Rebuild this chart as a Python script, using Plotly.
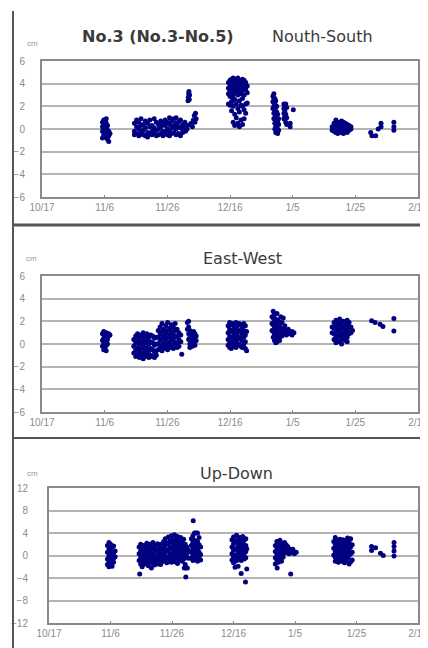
import plotly.graph_objects as go

# ---- data: (day offset from 10/17, [cm values]) ----
tick_days = [0, 20, 40, 60, 80, 100, 120]
tick_labels = ["10/17", "11/6", "11/26", "12/16", "1/5", "1/25", "2/14"]
ns_ticks = [-6, -4, -2, 0, 2, 4, 6]
ew_ticks = [-6, -4, -2, 0, 2, 4, 6]
ud_ticks = [-12, -8, -4, 0, 4, 8, 12]

station_title = "No.3 (No.3-No.5)"
panel_titles = ["Nouth-South", "East-West", "Up-Down"]

ns_columns = [
    (19.3, [0.6, 0.2, -0.2, -0.8]), (19.7, [0.8, 0.4, -0.5]), (20.1, [0.7, 0.0, -0.3, -0.7]),
    (20.5, [0.9, 0.5, 0.1, -0.4]), (20.9, [0.3, -0.1, -0.6, -0.9]), (21.3, [-0.2, -0.6, -1.1]),
    (21.7, [-0.4]),
    (29.5, [0.5, -0.2, -0.5]), (30.2, [0.8, 0.2, -0.4]), (30.9, [0.6, 0.0, -0.6]),
    (31.6, [0.9, 0.3, -0.3]), (32.3, [0.4, -0.1, -0.5]), (33.0, [0.7, 0.1, -0.6]),
    (33.7, [0.5, -0.3, -0.7]), (34.4, [0.8, 0.2, -0.4]), (35.1, [0.3, -0.2, -0.5]),
    (35.8, [0.9, 0.1, -0.3]), (36.5, [0.6, -0.1, -0.6]), (37.2, [0.4, 0.0, -0.5]),
    (37.9, [0.7, 0.2, -0.4]), (38.6, [0.5, -0.2, -0.6]), (39.3, [0.8, 0.3, -0.3]),
    (40.0, [0.6, 0.0, -0.5]), (40.7, [1.0, 0.4, -0.2, -0.6]), (41.4, [0.7, 0.1, -0.4]),
    (42.1, [0.9, 0.3, -0.3]), (42.8, [1.0, 0.5, 0.0, -0.5]), (43.5, [0.6, 0.2, -0.4]),
    (44.2, [0.8, 0.1, -0.6]), (44.9, [0.4, -0.1, -0.3]), (45.6, [0.6, 0.2]),
    (45.8, [-0.2]), (46.3, [0.0]), (46.5, [0.3]), (46.6, [2.5]), (46.7, [2.8]),
    (46.8, [3.1]), (46.9, [3.3]), (47.0, [2.6]), (47.1, [3.0]), (47.3, [0.4]),
    (47.6, [0.5]), (48.0, [0.2]), (48.3, [0.8]), (48.6, [1.2]), (48.8, [0.6]),
    (49.0, [1.4]), (49.2, [0.9]),
    (59.5, [4.1, 3.6, 3.1, 2.2]), (60.0, [4.3, 3.8, 3.3, 2.9, 2.1]),
    (60.5, [4.4, 3.9, 3.4, 2.8, 2.4, 1.6]), (61.0, [4.5, 4.0, 3.5, 3.0, 2.0, 0.6]),
    (61.5, [4.3, 3.7, 3.2, 2.6, 1.3, 0.3]), (62.0, [4.4, 3.9, 3.4, 2.2, 1.0]),
    (62.5, [4.5, 4.1, 3.6, 3.0, 1.8, 0.5]), (63.0, [4.3, 3.8, 3.3, 2.5, 1.5, 0.2]),
    (63.5, [4.2, 3.7, 3.1, 2.1, 0.8]), (64.0, [4.4, 3.9, 3.4, 2.7, 2.0, 0.4]),
    (64.5, [4.3, 3.6, 3.0, 1.7, 0.9]), (65.0, [4.1, 3.5, 2.2, 1.4]), (65.5, [3.8, 3.2, 2.3]),
    (73.7, [2.9, 2.4, 1.8]), (74.0, [3.1, 2.6, 2.0, 1.4, 0.9]),
    (74.3, [2.7, 2.2, 1.6, 1.0, 0.5, 0.0]), (74.6, [2.5, 1.9, 1.2, 0.7, 0.2, -0.3]),
    (74.9, [2.0, 1.5, 0.8, 0.3, -0.2]), (75.2, [1.3, 0.6, 0.0, -0.4]), (75.5, [0.9, 0.4, -0.1]),
    (77.2, [2.2, 1.8, 1.4, 0.9]), (77.5, [2.0, 1.6, 1.1]), (77.8, [2.2, 1.3, 0.6]),
    (78.1, [1.9, 1.0, 0.4]), (79.2, [0.5, 0.2]), (80.2, [1.7]),
    (92.6, [0.2, -0.1]), (93.2, [0.5, 0.1, -0.2]), (93.8, [0.8, 0.3, 0.0, -0.3]),
    (94.4, [0.6, 0.2, -0.1, -0.4]), (95.0, [0.5, 0.1, -0.2]), (95.6, [0.7, 0.3, 0.0, -0.3]),
    (96.2, [0.6, 0.2, -0.1, -0.4]), (96.8, [0.5, 0.1, -0.2]), (97.4, [0.4, 0.0, -0.3]),
    (98.0, [0.3, -0.1]), (98.6, [0.2, 0.0]),
    (104.9, [-0.3]), (105.3, [-0.6]), (106.5, [-0.6]), (107.3, [0.0]), (108.2, [0.5, 0.2]),
    (112.3, [0.6, 0.2, -0.1]),
]

ew_columns = [
    (19.3, [0.9, 0.3, -0.2]), (19.7, [1.1, 0.5, 0.0, -0.5]), (20.1, [0.7, 0.2, -0.3]),
    (20.5, [1.0, 0.6, -0.1, -0.6]), (20.9, [0.8, 0.4, 0.0]), (21.3, [0.9, 0.7]), (21.7, [0.8]),
    (29.3, [0.4, -0.2, -0.8]), (29.9, [0.7, 0.1, -0.5, -1.1]), (30.5, [0.9, 0.3, -0.3, -0.9]),
    (31.1, [0.6, 0.0, -0.6, -1.2]), (31.7, [0.8, 0.2, -0.4, -1.0]),
    (32.3, [1.0, 0.4, -0.2, -0.8, -1.3]), (32.9, [0.7, 0.1, -0.5, -1.1]),
    (33.5, [0.9, 0.3, -0.3, -0.9]), (34.1, [0.6, 0.0, -0.6, -1.2]),
    (34.7, [0.8, 0.2, -0.4, -1.0]), (35.3, [0.7, 0.1, -0.5, -1.1]),
    (35.9, [0.5, -0.1, -0.7, -1.2]), (36.5, [0.6, 0.0, -0.6, -1.0]),
    (37.1, [1.2, 0.6, 0.0, -0.5]), (37.7, [1.5, 0.9, 0.3, -0.3]),
    (38.3, [1.8, 1.1, 0.5, -0.1, -0.6]), (38.9, [1.3, 0.7, 0.1, -0.4]),
    (39.5, [1.6, 1.0, 0.4, -0.2]), (40.1, [1.9, 1.2, 0.6, 0.0, -0.5]),
    (40.7, [1.4, 0.8, 0.2, -0.3]), (41.3, [1.7, 1.1, 0.5, -0.1]),
    (41.9, [1.5, 0.9, 0.3, -0.4]), (42.5, [1.8, 1.2, 0.6, 0.0]),
    (43.1, [1.3, 0.7, 0.1, -0.3]), (43.7, [1.0, 0.4, -0.2]), (44.3, [0.8, 0.2]), (44.6, [-0.9]),
    (46.4, [1.9, 1.3]), (46.8, [2.0, 1.5, 0.9, 0.4]), (47.2, [1.2, 0.6, 0.0, -0.3]),
    (47.6, [1.0, 0.5, 0.1]), (48.0, [0.8, 0.3, -0.2]), (48.4, [1.1, 0.6, 0.0]),
    (48.8, [0.9, 0.2, -0.1]), (49.2, [0.7, 0.3]),
    (59.4, [1.6, 1.0, 0.4, -0.1]), (59.9, [1.9, 1.3, 0.7, 0.1, -0.3]),
    (60.4, [1.7, 1.1, 0.5, 0.0, -0.4]), (60.9, [1.8, 1.2, 0.6, 0.2]),
    (61.4, [1.5, 0.9, 0.3, -0.2]), (61.9, [1.9, 1.3, 0.7, 0.1, -0.3]),
    (62.4, [1.6, 1.0, 0.4, -0.1]), (62.9, [1.8, 1.2, 0.6, 0.0]),
    (63.4, [1.7, 1.1, 0.5, -0.2]), (63.9, [1.5, 0.9, 0.3, -0.3]),
    (64.4, [1.8, 1.2, 0.6, 0.0]), (64.9, [1.6, 0.8, 0.2, -0.4]), (65.3, [1.1, -0.6]),
    (73.4, [2.4, 1.8, 1.2]), (73.8, [2.9, 2.3, 1.7, 1.1, 0.6]), (74.2, [2.6, 2.0, 1.4, 0.8, 0.3]),
    (74.6, [2.2, 1.6, 1.0, 0.5, 0.1]), (75.0, [2.7, 1.9, 1.3, 0.7, 0.2]),
    (75.4, [2.1, 1.5, 0.9, 0.4]), (75.8, [1.7, 1.2, 0.6, 0.3]), (76.2, [2.4, 1.4, 0.8]),
    (76.6, [1.9, 1.1, 0.7]), (77.0, [2.3, 1.3, 0.9]), (77.5, [1.6, 1.0]), (78.0, [1.2, 0.8]),
    (78.6, [1.3, 0.9]), (79.2, [1.0]), (79.8, [1.1, 0.8]), (80.4, [1.0]),
    (92.6, [1.5, 1.0]), (93.2, [1.9, 1.4, 0.9, 0.4]), (93.8, [2.1, 1.6, 1.1, 0.6, 0.1]),
    (94.4, [1.8, 1.3, 0.8, 0.3]), (95.0, [2.2, 1.7, 1.2, 0.7, 0.2]),
    (95.6, [1.9, 1.4, 0.9, 0.4, 0.0]), (96.2, [2.0, 1.5, 1.0, 0.5]),
    (96.8, [1.8, 1.3, 0.8, 0.3]), (97.4, [2.1, 1.6, 1.1, 0.6, 0.2]),
    (98.0, [1.9, 1.4, 0.9]), (98.6, [1.5, 1.0]), (99.1, [1.2]),
    (105.2, [2.05]), (106.3, [1.9]), (107.9, [1.75]), (108.8, [1.55]),
    (112.3, [2.25, 1.15]),
]

ud_columns = [
    (19.0, [1.8, 0.6, -0.6, -1.6]), (19.5, [2.3, 1.2, 0.0, -1.0, -2.0]),
    (20.0, [2.0, 0.9, -0.3, -1.4]), (20.5, [1.5, 0.3, -0.8, -1.9]),
    (21.0, [1.7, 0.5, -0.5, -1.2]), (21.5, [0.8, -0.2]),
    (29.3, [1.5, 0.3, -0.9]), (29.5, [-3.3]), (29.8, [2.0, 0.8, -0.4, -1.5]),
    (30.3, [1.2, 0.0, -1.1, -2.0]), (30.8, [1.8, 0.6, -0.6, -1.6]), (31.3, [1.4, 0.2, -0.9]),
    (31.8, [2.2, 1.0, -0.2, -1.3]), (32.3, [1.6, 0.4, -0.7, -1.8]),
    (32.8, [2.0, 0.8, -0.4, -1.4]), (33.3, [1.3, 0.1, -1.0, -2.2]),
    (33.8, [2.3, 1.1, -0.1, -1.2]), (34.3, [1.7, 0.5, -0.6, -1.7]), (34.8, [1.0, -0.2, -1.1]),
    (35.3, [2.1, 0.9, -0.3, -1.5]), (35.8, [1.5, 0.3, -0.8]), (36.3, [2.0, 0.7, -0.5, -1.6]),
    (36.8, [1.2, 0.0, -1.0]),
    (37.3, [2.5, 1.3, 0.1, -1.0]), (37.8, [3.0, 1.8, 0.6, -0.6]), (38.3, [2.2, 1.0, -0.2, -1.3]),
    (38.8, [3.3, 2.1, 0.9, -0.3]), (39.3, [2.6, 1.4, 0.2, -0.9]),
    (39.8, [3.5, 2.3, 1.1, -0.1, -1.2]), (40.3, [2.8, 1.6, 0.4, -0.7]),
    (40.8, [3.7, 2.4, 1.2, 0.0, -1.1]), (41.3, [3.0, 1.8, 0.6, -0.5]),
    (41.8, [3.4, 2.2, 1.0, -0.2, -1.4]), (42.3, [2.7, 1.5, 0.3, -0.8]),
    (42.8, [3.2, 2.0, 0.8, -0.4]), (43.3, [2.5, 1.3, 0.1, -1.0]),
    (43.8, [2.9, 1.7, 0.5, -0.6]), (44.0, [-2.2]), (44.3, [2.0, 0.8, -0.3, -1.6]),
    (44.5, [-2.2, -3.8]), (44.8, [1.5, 0.3]), (45.0, [-2.2]), (45.3, [1.0, -0.5]),
    (46.3, [3.0, 1.8, 0.6, -0.5]), (46.8, [3.5, 2.3, 1.1, 0.0, -0.9]), (46.9, [6.2]),
    (47.3, [4.0, 2.7, 1.5, 0.3, -0.6]), (47.8, [4.0, 2.0, 0.8, -0.3]),
    (48.3, [4.0, 2.5, 1.2, 0.0, -1.0]), (48.8, [3.2, 1.9, 0.6, -0.5]), (49.3, [1.5, 0.2, -0.8]),
    (59.5, [2.8, 1.5, 0.3, -0.8]), (60.0, [3.3, 2.1, 0.9, -0.2, -1.3]),
    (60.5, [2.5, 1.2, 0.0, -1.0, -2.1]), (61.0, [3.6, 2.4, 1.2, 0.1, -0.9]),
    (61.5, [2.9, 1.7, 0.5, -0.5, -1.9]), (62.0, [3.2, 2.0, 0.8, -0.3]),
    (62.5, [2.6, 1.4, 0.2, -0.9, -3.2]), (63.0, [3.4, 2.2, 1.0, -0.1]),
    (63.5, [2.7, 1.5, 0.4, -0.6]), (63.9, [-4.7]), (64.0, [3.0, 1.8, 0.7, -0.4]),
    (64.3, [1.2, -2.4]),
    (73.6, [1.8, 0.7, -0.4, -1.5]), (74.1, [2.5, 1.4, 0.3, -0.8]), (74.2, [-2.2]),
    (74.6, [2.0, 0.9, -0.2, -1.2]), (75.1, [2.7, 1.6, 0.5, -0.6]),
    (75.6, [2.2, 1.1, 0.0, -1.0]), (76.1, [1.8, 0.8, -0.3]), (76.6, [2.3, 1.3, 0.4]),
    (77.1, [1.9, 1.0]), (77.6, [1.6, 0.6]), (78.1, [1.2, 0.3]), (78.6, [-3.3]),
    (78.7, [0.9]), (79.3, [1.1, 0.5]), (79.8, [0.3]), (80.4, [0.6]),
    (92.6, [2.5, 1.3, 0.1]), (93.1, [3.2, 2.0, 0.8, -0.3, -1.0]), (93.6, [2.7, 1.5, 0.3, -0.8]),
    (94.1, [2.3, 1.1, -0.1, -1.2]), (94.6, [2.9, 1.7, 0.5, -0.6]),
    (95.1, [2.4, 1.2, 0.0, -1.0]), (95.6, [2.8, 1.6, 0.4, -0.7]),
    (96.1, [2.2, 1.0, -0.2, -1.3]), (96.6, [2.6, 1.4, 0.2, -0.9]),
    (97.1, [3.1, 1.8, 0.6, -0.5]), (97.6, [2.4, 1.2, 0.0, -1.5]),
    (98.1, [3.0, 1.5, 0.3, -1.1]), (98.6, [1.9, 0.6, -0.8]),
    (104.9, [1.6, 0.9]), (106.2, [1.4]), (107.8, [0.4]), (108.7, [0.0]),
    (112.2, [2.3, 1.6, 0.8, -0.1]),
]


def flatten(columns):
    xs, ys = [], []
    for d, vals in columns:
        for v in vals:
            xs.append(d)
            ys.append(v)
    return xs, ys


# The page body has an 8px default margin, so the figure starts at page (8, 8).
OFF = 8
W, H = 420, 640


def fx(px):
    return (px - OFF) / W


def fy(py):
    return 1 - (py - OFF) / H


MARK = "#000080"
GRID = "#b4b4b4"
FRAME = "#8a8a8a"
TICKFONT = dict(family="Liberation Sans, Arial, sans-serif", size=10, color="#8c8c8c")
TITLEFONT = dict(family="DejaVu Sans, sans-serif", size=16, color="#3a3a3a")

# plot boxes in page pixels: (left, right, top, bottom)
boxes = [(42, 418, 61, 197), (42, 418, 276, 412), (49, 418, 488, 623)]
ranges = [(-6, 6), (-6, 6), (-12, 12)]
yticks = [ns_ticks, ew_ticks, ud_ticks]
datasets = [ns_columns, ew_columns, ud_columns]
title_pos = [(322, 37), (242, 258), (237, 473)]
cm_pos = [(32, 43), (31, 258), (32, 473)]
standoffs = [13, 13, 17]

fig = go.Figure()
layout = dict(width=W, height=H, margin=dict(l=0, r=0, t=0, b=0),
              paper_bgcolor="white", plot_bgcolor="white", showlegend=False)

annotations = [dict(text="<b>" + station_title + "</b>", x=fx(158), y=fy(37),
                    xref="paper", yref="paper", showarrow=False, font=TITLEFONT,
                    xanchor="center", yanchor="middle")]
for i in range(3):
    n = "" if i == 0 else str(i + 1)
    l, r, t, b = boxes[i]
    xs, ys = flatten(datasets[i])
    fig.add_trace(go.Scatter(x=xs, y=ys, mode="markers", xaxis="x" + n, yaxis="y" + n,
                             marker=dict(color=MARK, size=5, symbol="circle",
                                         line=dict(width=0)), hoverinfo="skip"))
    layout["xaxis" + n] = dict(domain=[fx(l), min(fx(r), 1)], anchor="y" + n, range=[0, 120],
                               tickvals=tick_days, ticktext=tick_labels, showgrid=False,
                               zeroline=False, showline=True, linecolor=FRAME, linewidth=2,
                               mirror=True, ticks="inside", ticklen=2, tickcolor=FRAME,
                               tickfont=TICKFONT, automargin=False, ticklabelstandoff=0,
                               ticklabeloverflow="allow")
    layout["yaxis" + n] = dict(domain=[fy(b), fy(t)], anchor="x" + n,
                               range=list(ranges[i]), tickvals=yticks[i], showgrid=True,
                               gridcolor=GRID, gridwidth=2, zeroline=False, showline=True,
                               linecolor=FRAME, linewidth=2, mirror=True, ticks="",
                               tickfont=TICKFONT, automargin=False,
                               ticklabelstandoff=standoffs[i], ticklabeloverflow="allow")
    tx, ty = title_pos[i]
    annotations.append(dict(text=panel_titles[i], x=fx(tx), y=fy(ty), xref="paper",
                            yref="paper", showarrow=False, font=TITLEFONT,
                            xanchor="center", yanchor="middle"))
    cx, cy = cm_pos[i]
    annotations.append(dict(text="cm", x=fx(cx), y=fy(cy), xref="paper", yref="paper",
                            showarrow=False, xanchor="center", yanchor="middle",
                            font=dict(family="Liberation Sans, Arial, sans-serif", size=8,
                                      color="#9a9a9a")))

shapes = [
    dict(type="line", xref="paper", yref="paper", x0=fx(13), x1=fx(13), y0=0,
         y1=fy(11), line=dict(color="#555555", width=2)),
    dict(type="line", xref="paper", yref="paper", x0=fx(13), x1=1, y0=fy(225),
         y1=fy(225), line=dict(color="#555555", width=3)),
    dict(type="line", xref="paper", yref="paper", x0=fx(13), x1=1, y0=fy(438),
         y1=fy(438), line=dict(color="#555555", width=2)),
]
layout["annotations"] = annotations
layout["shapes"] = shapes
fig.update_layout(**layout)
fig.write_html("out.html")
